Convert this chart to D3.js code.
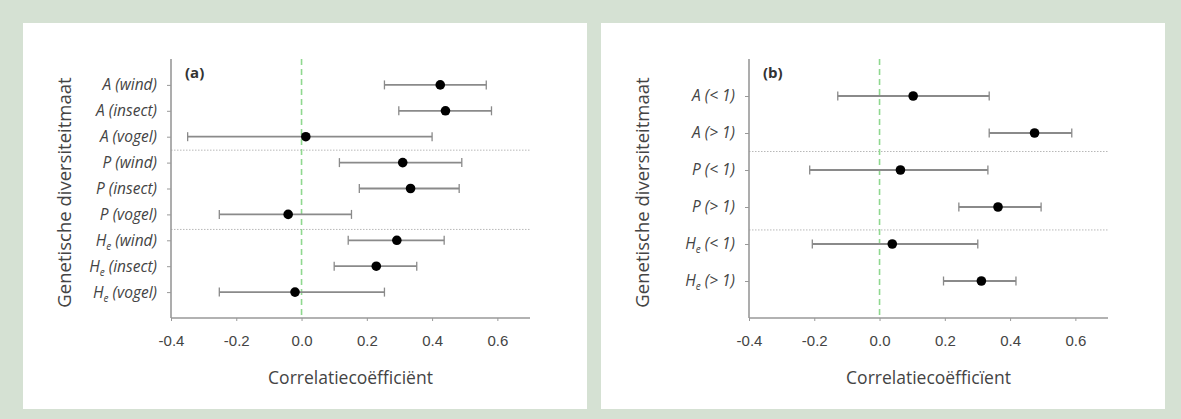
<!DOCTYPE html>
<html>
<head>
<meta charset="utf-8" />
<script src="https://cdn.jsdelivr.net/npm/d3@7"></script>
<style>
  body { margin: 0; background: #d5e1d3; }
  svg { display: block; font-family: "Open Sans", "Noto Sans", sans-serif; }
</style>
</head>
<body>
<svg id="chart" width="1181" height="419"></svg>
<script>
  // panel (a): pollination type
  var labelsA = ["A (wind)", "A (insect)", "A (vogel)",
                 "P (wind)", "P (insect)", "P (vogel)",
                 "He (wind)", "He (insect)", "He (vogel)"];
  var estA  = [0.425, 0.441, 0.013, 0.31, 0.334, -0.041, 0.292, 0.229, -0.02];
  var lowA  = [0.254, 0.298, -0.349, 0.116, 0.177, -0.252, 0.143, 0.10, -0.252];
  var highA = [0.566, 0.582, 0.40, 0.491, 0.483, 0.153, 0.437, 0.353, 0.254];
  var sepsA = [2.52, 5.58];   // dotted group separators, in row units

  // panel (b): seed dispersal
  var labelsB = ["A (< 1)", "A (> 1)", "P (< 1)", "P (> 1)", "He (< 1)", "He (> 1)"];
  var estB  = [0.103, 0.475, 0.064, 0.363, 0.039, 0.312];
  var lowB  = [-0.128, 0.336, -0.214, 0.243, -0.206, 0.196];
  var highB = [0.336, 0.589, 0.332, 0.495, 0.301, 0.418];
  var sepsB = [1.5, 3.62];

  var xTicks = [-0.4, -0.2, 0.0, 0.2, 0.4, 0.6];
  var xDomain = [-0.4, 0.7];

  var svg = d3.select("#chart");

  function drawPanel(left, tag, xTitle, labels, est, low, high, seps) {
    var ox = left;            // panel left edge
    svg.append("rect")
       .attr("x", ox).attr("y", 23)
       .attr("width", 564).attr("height", 386)
       .attr("fill", "#fff");

    var axL = ox + 148, axR = ox + 507, axT = 59, axB = 318;
    var x = d3.scaleLinear().domain(xDomain).range([axL, axR]);
    var y = d3.scalePoint().domain(d3.range(labels.length)).range([axT, axB]).padding(1);
    var step = y.step();
    var rowY = function(r) { return y(0) + r * step; };

    var g = svg.append("g");

    // group separators
    g.selectAll(".sep").data(seps).enter().append("line")
      .attr("x1", axL).attr("x2", axR)
      .attr("y1", function(d) { return rowY(d); })
      .attr("y2", function(d) { return rowY(d); })
      .attr("stroke", "#b8b8b8").attr("stroke-width", 1)
      .attr("stroke-dasharray", "1.5,1.5");

    // zero line
    g.append("line")
      .attr("x1", x(0)).attr("x2", x(0))
      .attr("y1", axT).attr("y2", axB)
      .attr("stroke", "#8fd88f").attr("stroke-width", 1.6)
      .attr("stroke-dasharray", "6,4");

    // x axis
    var xAxis = g.append("g")
      .attr("transform", "translate(0," + axB + ")")
      .call(d3.axisBottom(x).tickValues(xTicks).tickSize(3).tickPadding(14)
              .tickFormat(d3.format(".1f")));
    xAxis.select(".domain").attr("stroke", "#999").attr("stroke-width", 1.6)
         .attr("d", "M" + axL + ",0H" + axR);
    xAxis.selectAll(".tick line").attr("stroke", "#999");
    xAxis.selectAll(".tick text")
         .text(function(d) { return d3.format(".1f")(d).replace("−", "-"); })
         .attr("fill", "#444").attr("font-size", 15);

    // y axis
    var yAxis = g.append("g")
      .attr("transform", "translate(" + axL + ",0)")
      .call(d3.axisLeft(y).tickSize(4).tickPadding(9).tickFormat(""));
    yAxis.select(".domain").attr("stroke", "#999").attr("stroke-width", 1.6)
         .attr("d", "M0," + axT + "V" + axB);
    yAxis.selectAll(".tick line").attr("stroke", "#999");

    // row labels (italic, subscript e for He)
    var lab = g.selectAll(".rowlab").data(labels).enter().append("text")
      .attr("x", axL - 14)
      .attr("y", function(d, i) { return y(i); })
      .attr("dy", "0.35em")
      .attr("text-anchor", "end")
      .attr("font-size", 15.5).attr("font-style", "italic")
      .attr("fill", "#444");
    lab.each(function(d) {
      var t = d3.select(this);
      if (d.indexOf("He") === 0) {
        t.append("tspan").text("H");
        t.append("tspan").text("e").attr("font-size", 10).attr("dy", 4);
        t.append("tspan").text(d.slice(2)).attr("dy", -4);
      } else {
        t.text(d);
      }
    });

    // error bars
    var rows = labels.map(function(d, i) { return i; });
    var bars = g.selectAll(".bar").data(rows).enter().append("g");
    bars.append("line")
      .attr("x1", function(i) { return x(low[i]); })
      .attr("x2", function(i) { return x(high[i]); })
      .attr("y1", function(i) { return y(i); })
      .attr("y2", function(i) { return y(i); })
      .attr("stroke", "#8a8a8a").attr("stroke-width", 1.8);
    [low, high].forEach(function(arr) {
      bars.append("line")
        .attr("x1", function(i) { return x(arr[i]); })
        .attr("x2", function(i) { return x(arr[i]); })
        .attr("y1", function(i) { return y(i) - 4.5; })
        .attr("y2", function(i) { return y(i) + 4.5; })
        .attr("stroke", "#8a8a8a").attr("stroke-width", 1.3);
    });
    bars.append("circle")
      .attr("cx", function(i) { return x(est[i]); })
      .attr("cy", function(i) { return y(i); })
      .attr("r", 4.8)
      .attr("fill", "#000");

    // panel tag
    g.append("text")
      .attr("x", axL + 14).attr("y", 78)
      .attr("font-size", 15).attr("font-weight", "bold")
      .attr("fill", "#333")
      .text(tag);

    // axis titles
    g.append("text")
      .attr("x", (axL + axR) / 2).attr("y", 384)
      .attr("text-anchor", "middle")
      .attr("font-size", 17.5).attr("fill", "#444")
      .text(xTitle);
    g.append("text")
      .attr("transform", "translate(" + (axL - 100) + "," + ((axT + axB) / 2 + 4) + ") rotate(-90)")
      .attr("text-anchor", "middle")
      .attr("font-size", 18.5).attr("fill", "#444")
      .text("Genetische diversiteitmaat");
  }

  drawPanel(23, "(a)", "Correlatiecoëfficiënt", labelsA, estA, lowA, highA, sepsA);
  drawPanel(601, "(b)", "Correlatiecoëfficïent", labelsB, estB, lowB, highB, sepsB);
</script>
</body>
</html>
